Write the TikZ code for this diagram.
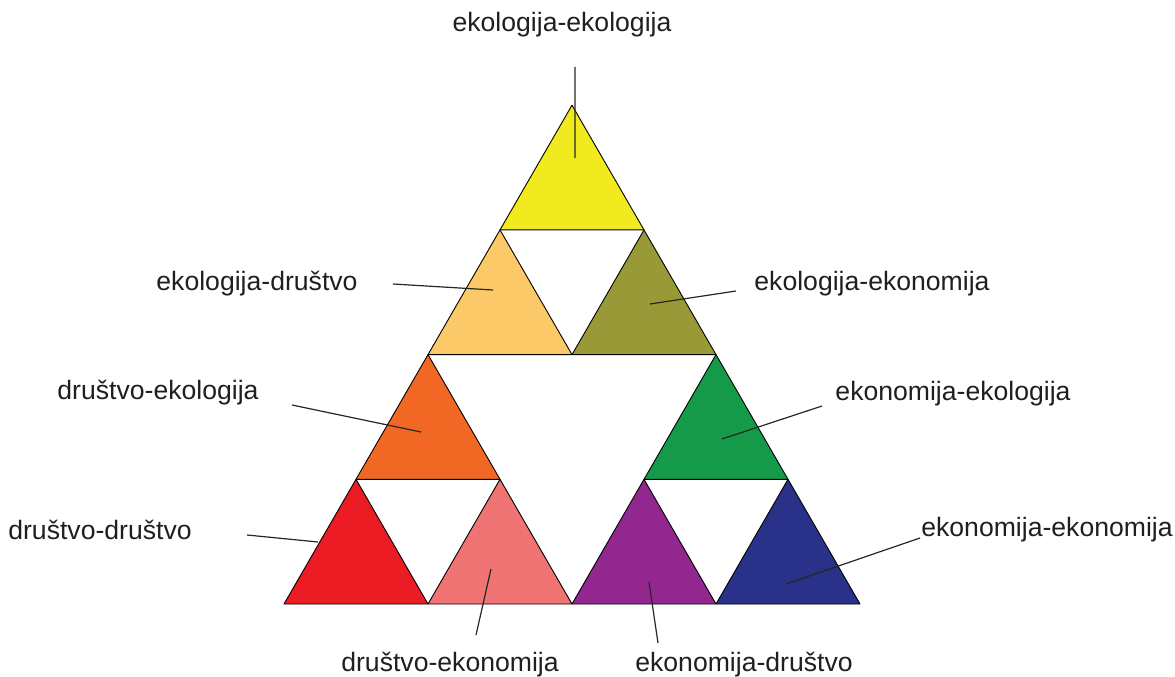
\documentclass[tikz,border=0pt]{standalone}
\usepackage{fontspec}
\setmainfont{Liberation Sans}
\definecolor{cYellow}{RGB}{240,234,30}
\definecolor{cSand}{RGB}{252,201,104}
\definecolor{cOlive}{RGB}{153,153,56}
\definecolor{cOrange}{RGB}{241,104,36}
\definecolor{cGreen}{RGB}{20,154,72}
\definecolor{cRed}{RGB}{236,28,36}
\definecolor{cPink}{RGB}{240,116,116}
\definecolor{cPurple}{RGB}{146,39,143}
\definecolor{cNavy}{RGB}{41,49,137}
% one small triangle: apex x, apex y, colour
\newcommand{\tri}[3]{\filldraw[fill=#3,draw=black,line width=0.9pt,line join=round]
  (#1,#2) -- ++(-72,124.7) -- ++(144,0) -- cycle;}
\tikzset{lab/.style={font=\fontsize{26.6}{30}\selectfont,text=black!88,inner sep=0pt},
  ptr/.style={line width=1.2pt,black!85}}

\begin{document}
\begin{tikzpicture}[x=1pt,y=-1pt]
    \useasboundingbox (0,0) rectangle (1175,677);
    \tri{572}{105.2}{cYellow}
    \tri{500}{229.9}{cSand}
    \tri{644}{229.9}{cOlive}
    \tri{428}{354.6}{cOrange}
    \tri{716}{354.6}{cGreen}
    \tri{356}{479.3}{cRed}
    \tri{500}{479.3}{cPink}
    \tri{644}{479.3}{cPurple}
    \tri{788}{479.3}{cNavy}
    \draw
    (562,25) node[lab](EE){ekologija-ekologija}
    (257,284) node[lab](ED){ekologija-društvo}
    (872,284) node[lab](EK){ekologija-ekonomija}
    (158,393) node[lab](DE){društvo-ekologija}
    (953,394) node[lab](KE){ekonomija-ekologija}
    (100,530) node[lab](DD){društvo-društvo}
    (1047,530) node[lab](KK){ekonomija-ekonomija}
    (450,665) node[lab](DK){društvo-ekonomija}
    (744,665) node[lab](KD){ekonomija-društvo};
    \coordinate (EEa) at (575,67);   \coordinate (EEb) at (575,158);
    \coordinate (EDa) at (393,284);  \coordinate (EDb) at (493,290);
    \coordinate (EKa) at (736,291);  \coordinate (EKb) at (650,304);
    \coordinate (DEa) at (292,405);  \coordinate (DEb) at (421,432);
    \coordinate (KEa) at (822,406);  \coordinate (KEb) at (722,439);
    \coordinate (DDa) at (247,535);  \coordinate (DDb) at (318,542);
    \coordinate (KKa) at (920,538);  \coordinate (KKb) at (786,584);
    \coordinate (DKa) at (476,635);  \coordinate (DKb) at (491,569);
    \coordinate (KDa) at (658,643);  \coordinate (KDb) at (649,582);
    \draw[ptr] (EEa) -- (EEb) (EDa) -- (EDb) (EKa) -- (EKb)
          (DEa) -- (DEb) (KEa) -- (KEb) (DDa) -- (DDb)
          (KKa) -- (KKb) (DKa) -- (DKb) (KDa) -- (KDb);
\end{tikzpicture}
\end{document}
